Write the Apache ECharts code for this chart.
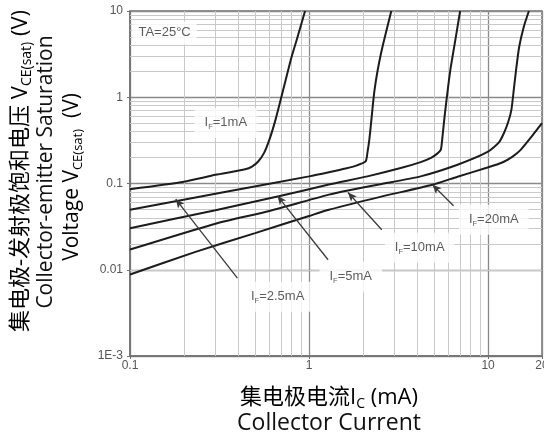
<!DOCTYPE html>
<html>
<head>
<meta charset="utf-8">
<script src="https://cdn.jsdelivr.net/npm/echarts@6/dist/echarts.min.js"></script>
<style>
  html, body { margin: 0; padding: 0; background: #fff; }
  #chart { width: 544px; height: 439px; }
</style>
</head>
<body>
<div id="chart"></div>
<script>
// Axis ticks
const xTickValues = [0.1, 1, 10, 20];
const xTickLabels = ['0.1', '1', '10', '20'];
const yTickValues = [0.001, 0.01, 0.1, 1, 10];
const yTickLabels = ['1E-3', '0.01', '0.1', '1', '10'];

// Collector current Ic (mA) and saturation voltage Vce(sat) (V) for each forward current
const ic_1mA   = [0.1, 0.2, 0.3, 0.44, 0.48, 0.52, 0.56, 0.6, 0.65, 0.7, 0.79, 0.86, 0.95];
const vce_1mA  = [0.086, 0.105, 0.126, 0.146, 0.157, 0.18, 0.225, 0.32, 0.55, 1.0, 2.7, 4.9, 10];

const ic_2_5mA  = [0.1, 0.35, 1.0, 1.29, 1.6, 1.85, 2.07, 2.12, 2.17, 2.22, 2.27, 2.32, 2.4, 2.52, 2.68, 2.88];
const vce_2_5mA = [0.0496, 0.0806, 0.121, 0.135, 0.149, 0.162, 0.18, 0.23, 0.32, 0.5, 0.8, 1.2, 1.9, 3.2, 5.5, 10];

const ic_5mA   = [0.1, 0.3, 0.677, 1.29, 2.12, 3.25, 4.2, 4.8, 5.2, 5.44, 5.52, 5.6, 5.7, 5.8, 5.9, 6.05, 6.2, 6.5, 6.98];
const vce_5mA  = [0.0303, 0.049, 0.071, 0.0973, 0.121, 0.151, 0.177, 0.198, 0.222, 0.245, 0.3, 0.4, 0.57, 0.78, 1.05, 1.6, 2.3, 4.1, 10];

const ic_10mA  = [0.1, 0.3, 0.6, 1.29, 1.65, 2.5, 4.2, 6.75, 9.93, 11.5, 12.3, 13.0, 13.5, 13.9, 14.3, 14.9, 15.8, 16.9];
const vce_10mA = [0.01715, 0.0342, 0.048, 0.0743, 0.083, 0.098, 0.121, 0.165, 0.232, 0.3, 0.39, 0.53, 0.72, 1.2, 2.0, 3.8, 6.5, 10];

const ic_20mA  = [0.1, 0.23, 0.5, 1.0, 1.29, 2.5, 4.89, 6.75, 9.93, 12, 13.7, 15.2, 17.5, 20];
const vce_20mA = [0.0088, 0.016, 0.0266, 0.042, 0.0496, 0.07, 0.0966, 0.12, 0.153, 0.175, 0.205, 0.245, 0.35, 0.5];

const curveNames = ['1mA', '2.5mA', '5mA', '10mA', '20mA'];
const curveIc  = [ic_1mA, ic_2_5mA, ic_5mA, ic_10mA, ic_20mA];
const curveVce = [vce_1mA, vce_2_5mA, vce_5mA, vce_10mA, vce_20mA];

// Label anchors [Ic, Vce] for each curve name, and arrow start/end points
const labelPos = [[0.343, 0.504], [0.668, 0.00486], [1.71, 0.0083], [4.15, 0.018], [10.76, 0.038]];
const arrowFrom = [null, [0.398, 0.0080], [1.277, 0.01306], [2.547, 0.0291], [6.41, 0.0552]];
const arrowTo   = [null, [0.18, 0.066], [0.666, 0.072], [1.65, 0.0787], [4.89, 0.0966]];
const tempText = 'TA=25°C';
const tempPos = [0.156, 5.57];

// Decade subdivisions (2..9) for the fine grid
const minorX = [];
[0.1, 1].forEach(d => { for (let k = 2; k <= 9; k++) minorX.push(+(k * d).toPrecision(3)); });
const minorY = [];
[0.001, 0.01, 0.1, 1].forEach(d => { for (let k = 2; k <= 9; k++) minorY.push(+(k * d).toPrecision(3)); });

function tickText(values, labels) {
  return v => {
    for (let i = 0; i < values.length; i++) {
      if (Math.abs(Math.log10(v) - Math.log10(values[i])) < 1e-6) return labels[i];
    }
    return '';
  };
}

const latin = "'Open Sans', 'Noto Sans CJK SC', sans-serif";
const small = 'Arial, "Liberation Sans", sans-serif';
const labelRich = {
  i: { fontSize: 13, color: '#333', fontFamily: small, lineHeight: 16 },
  f: { fontSize: 7.5, color: '#333', fontFamily: small, verticalAlign: 'bottom', lineHeight: 8 }
};

const series = [];

// fine grid lines
series.push({
  type: 'line', data: [], silent: true, z: 1,
  markLine: {
    silent: true, symbol: ['none', 'none'], z: 1, animation: false,
    label: { show: false },
    lineStyle: { color: '#c9c9c9', width: 1, type: 'solid' },
    data: minorX.map(v => ({ xAxis: v })).concat(minorY.map(v => ({ yAxis: v })))
  }
});

// curves
curveNames.forEach((name, i) => {
  series.push({
    name: 'IF=' + name,
    type: 'line',
    data: curveIc[i].map((x, j) => [x, curveVce[i][j]]),
    showSymbol: false,
    smooth: 0.2,
    z: 4,
    lineStyle: { color: '#1c1c1c', width: 2 },
    animation: false
  });
});

// arrows pointing to curves
series.push({
  type: 'line', data: [], silent: true, z: 5,
  markLine: {
    silent: true, z: 5, animation: false,
    symbol: ['none', 'arrow'], symbolSize: [6, 9],
    label: { show: false },
    lineStyle: { color: '#3a3a3a', width: 1.3, type: 'solid' },
    data: arrowFrom.map((a, i) => a ? [{ coord: a }, { coord: arrowTo[i] }] : null).filter(Boolean)
  }
});

// curve name labels
series.push({
  type: 'scatter', silent: true, z: 6, symbolSize: 0, animation: false,
  data: labelPos.map((p, i) => ({ value: p, name: curveNames[i] })),
  label: {
    show: true, position: 'inside',
    formatter: p => '{i|I}{f|F}{i|=' + p.name + '}',
    rich: labelRich,
    backgroundColor: '#fff',
    padding: [7, 10]
  }
});

// ambient temperature note
series.push({
  type: 'scatter', silent: true, z: 6, symbolSize: 0, animation: false,
  data: [{ value: tempPos, name: tempText }],
  label: {
    show: true, position: 'inside', formatter: '{b}',
    fontSize: 13, color: '#333', fontFamily: small,
    backgroundColor: '#fff', padding: [5, 6]
  }
});

const chart = echarts.init(document.getElementById('chart'), null, { renderer: 'canvas' });
chart.setOption({
  animation: false,
  backgroundColor: '#fff',
  grid: {
    left: 130, right: 2, top: 11, bottom: 83,
    outerBoundsMode: 'none', containLabel: false,
    show: true, borderColor: '#707070', borderWidth: 1.5, backgroundColor: 'transparent'
  },
  xAxis: {
    type: 'log', logBase: 10, min: 0.1, max: 20,
    axisLine: { show: true, lineStyle: { color: '#707070', width: 1.5 } },
    axisTick: { show: true, length: 3, lineStyle: { color: '#707070' } },
    axisLabel: { formatter: tickText(xTickValues, xTickLabels), color: '#555', fontSize: 12, fontFamily: small, margin: 4, hideOverlap: false },
    splitLine: { show: true, lineStyle: { color: '#8a8a8a', width: 1.3 } }
  },
  yAxis: {
    type: 'log', logBase: 10, min: 0.001, max: 10,
    axisLine: { show: true, lineStyle: { color: '#707070', width: 1.5 } },
    axisTick: { show: true, length: 3, lineStyle: { color: '#707070' } },
    axisLabel: { formatter: tickText(yTickValues, yTickLabels), color: '#555', fontSize: 12, fontFamily: small, margin: 7 },
    splitLine: { show: true, lineStyle: { color: '#8a8a8a', width: 1.3 } }
  },
  graphic: [
    {
      type: 'text', x: 21, y: 171, rotation: Math.PI / 2, silent: true,
      style: {
        text: '{a|集电极-发射极饱和电压 V}{s|CE(sat)}{a| (V)}',
        align: 'center', verticalAlign: 'middle',
        rich: {
          a: { fontSize: 22, fontFamily: latin, color: '#111', lineHeight: 27 },
          s: { fontSize: 14, fontFamily: latin, color: '#111', lineHeight: 14, verticalAlign: 'bottom' }
        }
      }
    },
    {
      type: 'text', x: 46, y: 172, rotation: Math.PI / 2, silent: true,
      style: {
        text: 'Collector-emitter Saturation',
        align: 'center', verticalAlign: 'middle',
        font: "21px " + latin, fill: '#111'
      }
    },
    {
      type: 'text', x: 72, y: 177, rotation: Math.PI / 2, silent: true,
      style: {
        text: '{a|Voltage V}{s|CE(sat)}{a|  (V)}',
        align: 'center', verticalAlign: 'middle',
        rich: {
          a: { fontSize: 21, fontFamily: latin, color: '#111', lineHeight: 26 },
          s: { fontSize: 13, fontFamily: latin, color: '#111', lineHeight: 13, verticalAlign: 'bottom' }
        }
      }
    },
    {
      type: 'text', x: 329, y: 398, silent: true,
      style: {
        text: '{a|集电极电流I}{s|C}{a| (mA)}',
        align: 'center', verticalAlign: 'middle',
        rich: {
          a: { fontSize: 22, fontFamily: latin, color: '#111', lineHeight: 26 },
          s: { fontSize: 14, fontFamily: latin, color: '#111', lineHeight: 14, verticalAlign: 'bottom' }
        }
      }
    },
    {
      type: 'text', x: 329, y: 423, silent: true,
      style: {
        text: 'Collector Current',
        align: 'center', verticalAlign: 'middle',
        font: "23px " + latin, fill: '#111'
      }
    }
  ],
  series: series
});
</script>
</body>
</html>
